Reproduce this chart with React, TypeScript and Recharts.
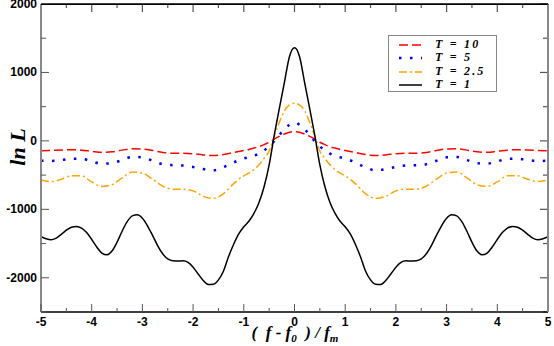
import React from 'react';
import { LineChart, Line, XAxis, YAxis, ReferenceLine } from 'recharts';

// x grid for the T = 1 curve (step 0.1)
const xFine = [
  -5.0, -4.9, -4.8, -4.7, -4.6, -4.5, -4.4, -4.3, -4.2, -4.1,
  -4.0, -3.9, -3.8, -3.7, -3.6, -3.5, -3.4, -3.3, -3.2, -3.1,
  -3.0, -2.9, -2.8, -2.7, -2.6, -2.5, -2.4, -2.3, -2.2, -2.1,
  -2.0, -1.9, -1.8, -1.7, -1.6, -1.5, -1.4, -1.3, -1.2, -1.1,
  -1.0, -0.9, -0.8, -0.7, -0.6, -0.5, -0.4, -0.3, -0.2, -0.1,
  0.0,
  0.1, 0.2, 0.3, 0.4, 0.5, 0.6, 0.7, 0.8, 0.9, 1.0,
  1.1, 1.2, 1.3, 1.4, 1.5, 1.6, 1.7, 1.8, 1.9, 2.0,
  2.1, 2.2, 2.3, 2.4, 2.5, 2.6, 2.7, 2.8, 2.9, 3.0,
  3.1, 3.2, 3.3, 3.4, 3.5, 3.6, 3.7, 3.8, 3.9, 4.0,
  4.1, 4.2, 4.3, 4.4, 4.5, 4.6, 4.7, 4.8, 4.9, 5.0,
];

const lnL_T1 = [
  -1400, -1430, -1445, -1420, -1365, -1305, -1262, -1250, -1275, -1340,
  -1440, -1550, -1640, -1665, -1610, -1480, -1320, -1180, -1095, -1080,
  -1130, -1240, -1380, -1530, -1650, -1725, -1752, -1755, -1752, -1775,
  -1845, -1945, -2040, -2100, -2095, -2030, -1900, -1690, -1510, -1360,
  -1255, -1175, -1060, -900, -670, -350, 80, 470, 850, 1230,
  1360,
  1230, 850, 470, 80, -350, -670, -900, -1060, -1175, -1255,
  -1360, -1510, -1690, -1900, -2030, -2095, -2100, -2040, -1945, -1845,
  -1775, -1752, -1755, -1752, -1725, -1650, -1530, -1380, -1240, -1130,
  -1080, -1095, -1180, -1320, -1480, -1610, -1665, -1640, -1550, -1440,
  -1340, -1275, -1250, -1262, -1305, -1365, -1420, -1445, -1430, -1400,
];

// x grid for the other temperatures
const xCoarse = [
  -5.0, -4.8, -4.6, -4.4, -4.2, -4.0, -3.8, -3.6, -3.4, -3.2,
  -3.0, -2.8, -2.6, -2.4, -2.2, -2.0, -1.8, -1.6, -1.4, -1.2,
  -1.0, -0.9, -0.8, -0.7, -0.6, -0.5, -0.4, -0.3, -0.2, -0.1,
  0.0,
  0.1, 0.2, 0.3, 0.4, 0.5, 0.6, 0.7, 0.8, 0.9, 1.0,
  1.2, 1.4, 1.6, 1.8, 2.0, 2.2, 2.4, 2.6, 2.8, 3.0,
  3.2, 3.4, 3.6, 3.8, 4.0, 4.2, 4.4, 4.6, 4.8, 5.0,
];

const lnL_T10 = [
  -145, -140, -133, -128, -135, -152, -167, -160, -135, -115,
  -118, -140, -168, -180, -180, -188, -205, -215, -200, -170,
  -140, -125, -105, -85, -55, -20, 25, 65, 100, 125,
  135,
  125, 100, 65, 25, -20, -55, -85, -105, -125, -140,
  -170, -200, -215, -205, -188, -180, -180, -168, -140, -118,
  -115, -135, -160, -167, -152, -135, -128, -133, -140, -145,
];

const lnL_T5 = [
  -290, -293, -280, -260, -262, -300, -332, -325, -280, -235,
  -240, -290, -340, -355, -360, -380, -412, -430, -385, -315,
  -258, -240, -220, -185, -140, -80, -5, 85, 170, 235,
  265,
  235, 170, 85, -5, -80, -140, -185, -220, -240, -258,
  -315, -385, -430, -412, -380, -360, -355, -340, -290, -240,
  -235, -280, -325, -332, -300, -262, -260, -280, -293, -290,
];

const lnL_T25 = [
  -570, -595, -560, -510, -510, -600, -665, -640, -540, -455,
  -470, -560, -660, -705, -705, -730, -810, -840, -770, -625,
  -510, -470, -420, -350, -255, -150, 70, 270, 440, 525,
  550,
  525, 440, 270, 70, -150, -255, -350, -420, -470, -510,
  -625, -770, -840, -810, -730, -705, -705, -660, -560, -470,
  -455, -540, -640, -665, -600, -510, -510, -560, -595, -570,
];

const xTicks = [-5, -4.5, -4, -3.5, -3, -2.5, -2, -1.5, -1, -0.5, 0, 0.5, 1, 1.5, 2, 2.5, 3, 3.5, 4, 4.5, 5];
const yTicks = [2000, 1500, 1000, 500, 0, -500, -1000, -1500, -2000, -2500];

const series = [
  { name: 'T = 10', color: '#ff0000', dash: '9 4', width: 1.5, x: xCoarse, y: lnL_T10 },
  { name: 'T = 5', color: '#0000ff', dash: '2.5 8.5', width: 2.5, x: xCoarse, y: lnL_T5 },
  { name: 'T = 2.5', color: '#ffa500', dash: '8 3 2 3', width: 1.5, x: xCoarse, y: lnL_T25 },
  { name: 'T = 1', color: '#000000', dash: undefined, width: 1.5, x: xFine, y: lnL_T1 },
];

const W = 554;
const H = 346;
const M = { top: 4, right: 6, bottom: 0, left: 0 };
const Y_AXIS_W = 41;
const X_AXIS_H = 34;
const PLOT_W = W - M.left - M.right - Y_AXIS_W;
const PLOT_H = H - M.top - M.bottom - X_AXIS_H;

const tickFont = { fontFamily: '"Liberation Sans", Arial, sans-serif', fontWeight: 700, fontSize: 12 };
const titleFont = { fontFamily: '"Liberation Serif", "Times New Roman", serif', fontWeight: 700, fontStyle: 'italic' as const };

const isMajorX = (v: number) => Number.isInteger(v);
const isMajorY = (v: number) => v % 1000 === 0;

const XTick = (props: any) => {
  const { x, y, payload } = props;
  const v = payload.value;
  const len = isMajorX(v) ? 8 : 4;
  return (
    <g>
      <line x1={x} x2={x} y1={y} y2={y - len} stroke="#555" strokeWidth={1} />
      {isMajorX(v) && (
        <text x={x} y={y + 14} textAnchor="middle" fill="#000" {...tickFont}>{v}</text>
      )}
    </g>
  );
};

const YTick = (props: any) => {
  const { x, y, payload } = props;
  const v = payload.value;
  const len = isMajorY(v) ? 8 : 5;
  return (
    <g>
      <line x1={x} x2={x + len} y1={y} y2={y} stroke="#555" strokeWidth={1} />
      {isMajorY(v) && (
        <text x={x - 4} y={y + 4} textAnchor="end" fill="#000" {...tickFont}>{v}</text>
      )}
    </g>
  );
};

// short inward ticks on the top and right frame
const topTick = (len: number) => (p: any) => {
  const top = Math.min(p.y1, p.y2);
  return <line x1={p.x1} x2={p.x1} y1={top} y2={top + len} stroke="#555" strokeWidth={1.2} />;
};
const rightTick = (len: number) => (p: any) => {
  const right = Math.max(p.x1, p.x2);
  return <line x1={right} x2={right - len} y1={p.y1} y2={p.y1} stroke="#555" strokeWidth={1.2} />;
};

const subStyle = { fontSize: 11, lineHeight: 0 };

const App = () => (
  <div style={{ position: 'absolute', left: 0, top: 0, width: W, height: H, background: '#fff' }}>
    <LineChart width={W} height={H} margin={M}>
      <XAxis type="number" dataKey="x" domain={[-5, 5]} ticks={xTicks} height={X_AXIS_H}
        axisLine={{ stroke: '#000', strokeWidth: 1.5 }} tickLine={false} tickSize={0} tickMargin={0}
        tick={XTick} interval={0} allowDataOverflow />
      <YAxis type="number" domain={[-2500, 2000]} ticks={yTicks} width={Y_AXIS_W}
        axisLine={{ stroke: '#888', strokeWidth: 2 }} tickLine={false} tickSize={0} tickMargin={0}
        tick={YTick} interval={0} allowDataOverflow />
      {series.map((s) => (
        <Line key={s.name} name={s.name} data={s.x.map((x, i) => ({ x, y: s.y[i] }))} dataKey="y"
          type="monotone" stroke={s.color} strokeWidth={s.width} strokeDasharray={s.dash}
          dot={false} activeDot={false} isAnimationActive={false} />
      ))}
      {xTicks.map((v) => (
        <ReferenceLine key={'tx' + v} x={v} ifOverflow="extendDomain" shape={topTick(isMajorX(v) ? 8 : 4)} />
      ))}
      {yTicks.map((v) => (
        <ReferenceLine key={'ry' + v} y={v} ifOverflow="extendDomain" shape={rightTick(isMajorY(v) ? 8 : 5)} />
      ))}
      <ReferenceLine y={2000} ifOverflow="extendDomain" stroke="#000" strokeWidth={1.5} />
      <ReferenceLine x={5} ifOverflow="extendDomain" stroke="#888" strokeWidth={2} />
    </LineChart>

    {/* plot frame (top and right edges) as a plain bordered box */}
    <div style={{
      position: 'absolute', left: M.left + Y_AXIS_W, top: M.top - 0.5, width: PLOT_W + 1, height: PLOT_H,
      boxSizing: 'border-box', borderTop: '1.5px solid #000', borderRight: '2px solid #888',
      pointerEvents: 'none', zIndex: 5,
    }} />

    <div style={{
      position: 'absolute', left: -22, top: 135, width: 80, height: 24, lineHeight: '24px',
      textAlign: 'center', transform: 'rotate(-90deg)', fontSize: 22, ...titleFont,
    }}>ln L</div>

    <div style={{
      position: 'absolute', left: 195, top: 324, width: 200, textAlign: 'center', fontSize: 17,
      lineHeight: '17px', whiteSpace: 'pre', ...titleFont,
    }}>
      (  f - f<sub style={subStyle}>0</sub>  ) / f<sub style={subStyle}>m</sub>
    </div>

    <div style={{
      position: 'absolute', left: 388, top: 35, width: 109, height: 57, boxSizing: 'border-box',
      border: '1.5px solid #888', background: '#fff',
    }}>
      {series.map((s, i) => (
        <div key={s.name} style={{ position: 'absolute', left: 0, top: 2 + i * 13.4, height: 13, width: 105 }}>
          <svg width={40} height={13} style={{ position: 'absolute', left: 0, top: 0 }}>
            <line x1={10} x2={33} y1={7} y2={7} stroke={s.color} strokeWidth={s.width}
              strokeDasharray={s.dash} />
          </svg>
          <span style={{
            position: 'absolute', left: 46, top: 0, fontSize: 12, lineHeight: '13px',
            letterSpacing: 2.2, whiteSpace: 'pre', ...titleFont,
          }}>{s.name}</span>
        </div>
      ))}
    </div>
  </div>
);

export default App;
